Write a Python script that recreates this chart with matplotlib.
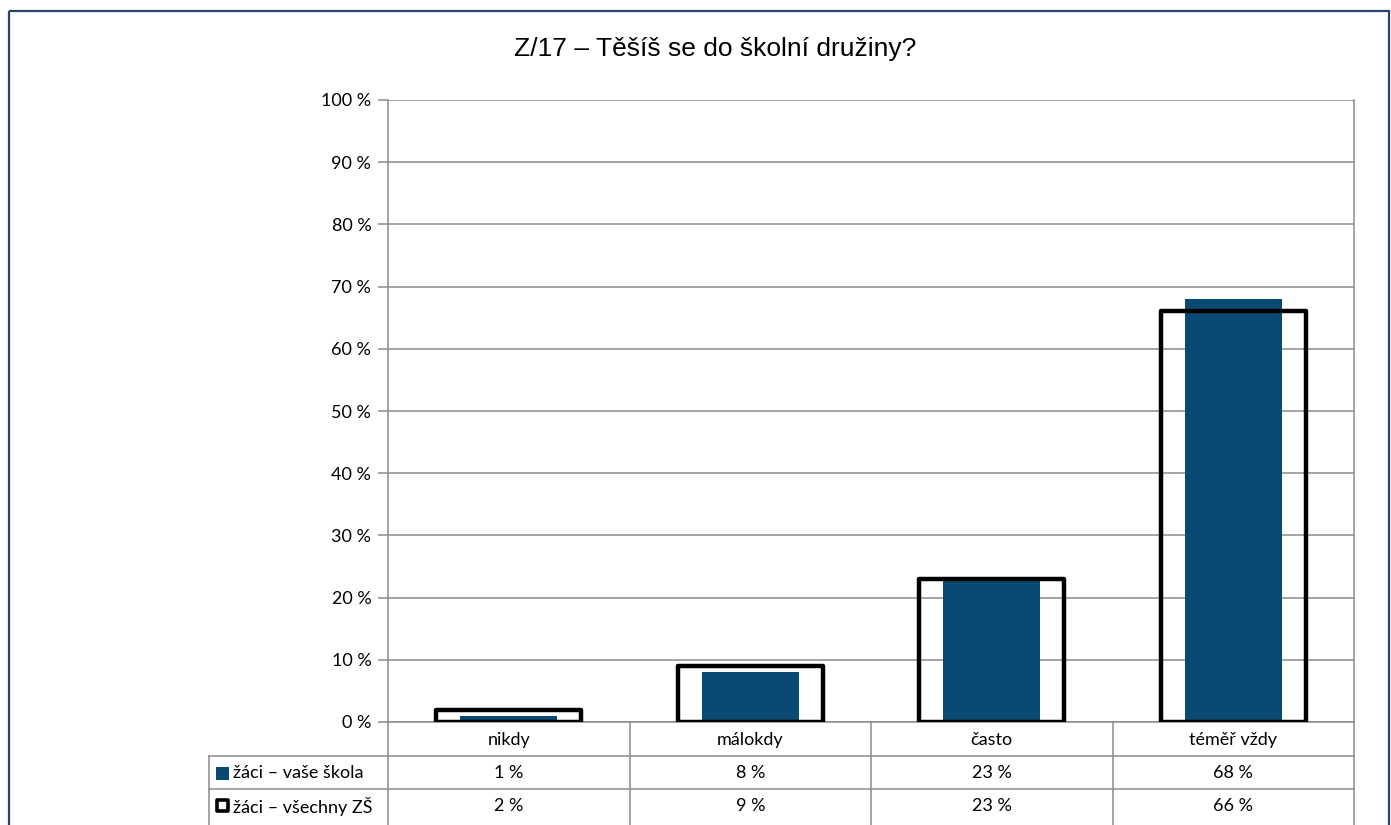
import matplotlib
matplotlib.use('Agg')
import matplotlib.pyplot as plt
from matplotlib.patches import Rectangle
from matplotlib.lines import Line2D
from matplotlib.transforms import blended_transform_factory

# data
categories = ['nikdy', 'málokdy', 'často', 'téměř vždy']
vase_skola = [1, 8, 23, 68]
vsechny_zs = [2, 9, 23, 66]
series_names = ['žáci – vaše škola', 'žáci – všechny ZŠ']
title = 'Z/17 – Těšíš se do školní družiny?'

blue = '#094a72'
grid_c = '#8c8c8c'
W, H = 1391, 825
fs = 13

plt.rcParams['font.family'] = ['Lato', 'DejaVu Sans']

fig = plt.figure(figsize=(W / 100, H / 100), dpi=100)

# overlay in pixel coords for the frame and table
ov = fig.add_axes([0, 0, 1, 1], zorder=0)
ov.set_xlim(0, W)
ov.set_ylim(H, 0)
ov.axis('off')

ax = fig.add_axes([388 / W, (H - 722) / H, (1354 - 388) / W, 622 / H], zorder=1)
ax.patch.set_alpha(0)
x = range(len(categories))

ax.bar(x, vase_skola, width=0.4, color=blue, zorder=2)
ax.bar(x, vsechny_zs, width=0.6, fill=False, edgecolor='black', linewidth=3.2,
       joinstyle='round', zorder=3)

ax.set_xlim(-0.5, len(categories) - 0.5)
ax.set_ylim(0, 100)
ax.set_yticks(range(0, 101, 10))
ax.set_yticklabels([f'{v} %' for v in range(0, 101, 10)], fontsize=fs)
ax.set_xticks([])
ax.grid(axis='y', color=grid_c, linewidth=1.1, zorder=0)
ax.tick_params(axis='y', length=7, width=1.1, color=grid_c, pad=5)
for s in ['left', 'right', 'bottom']:
    ax.spines[s].set_color(grid_c)
    ax.spines[s].set_linewidth(1.1)
ax.spines['top'].set_visible(False)

# table
tr = blended_transform_factory(ax.transData, ov.transData)
row_y = [740, 773, 806]
for i, c in enumerate(categories):
    ax.text(i, row_y[0], c, transform=tr, ha='center', va='center', fontsize=fs, clip_on=False)
    ax.text(i, row_y[1], f'{vase_skola[i]} %', transform=tr, ha='center', va='center',
            fontsize=fs, clip_on=False)
    ax.text(i, row_y[2], f'{vsechny_zs[i]} %', transform=tr, ha='center', va='center',
            fontsize=fs, clip_on=False)

for b in [0.5, 1.5, 2.5]:
    ax.add_line(Line2D([b, b], [722, H], transform=tr, color=grid_c, lw=1.1, clip_on=False))
ov.plot([388, 388], [722, H], color=grid_c, lw=1.1)
ov.plot([1354, 1354], [722, H], color=grid_c, lw=1.1)
ov.plot([209, 209], [756, H], color=grid_c, lw=1.1)
for yy in [756, 789]:
    ov.plot([209, 1354], [yy, yy], color=grid_c, lw=1.1)

# legend keys
ov.add_patch(Rectangle((216, 767), 13, 13, facecolor=blue, edgecolor='none'))
ov.add_patch(Rectangle((217, 800), 11, 11, facecolor='white', edgecolor='black', lw=2.6,
                       joinstyle='round'))
ov.text(233, row_y[1], series_names[0], ha='left', va='center', fontsize=fs)
ov.text(233, row_y[2], series_names[1], ha='left', va='center', fontsize=fs)

# title
ov.text(715, 49, title, ha='center', va='center', fontsize=19,
        family=['Liberation Sans', 'DejaVu Sans'])

# outer frame
ov.add_patch(Rectangle((9, 11), 1380, 840, fill=False, edgecolor='#2a4468', lw=1.6,
                       clip_on=False))

fig.savefig('out.png', dpi=100)
